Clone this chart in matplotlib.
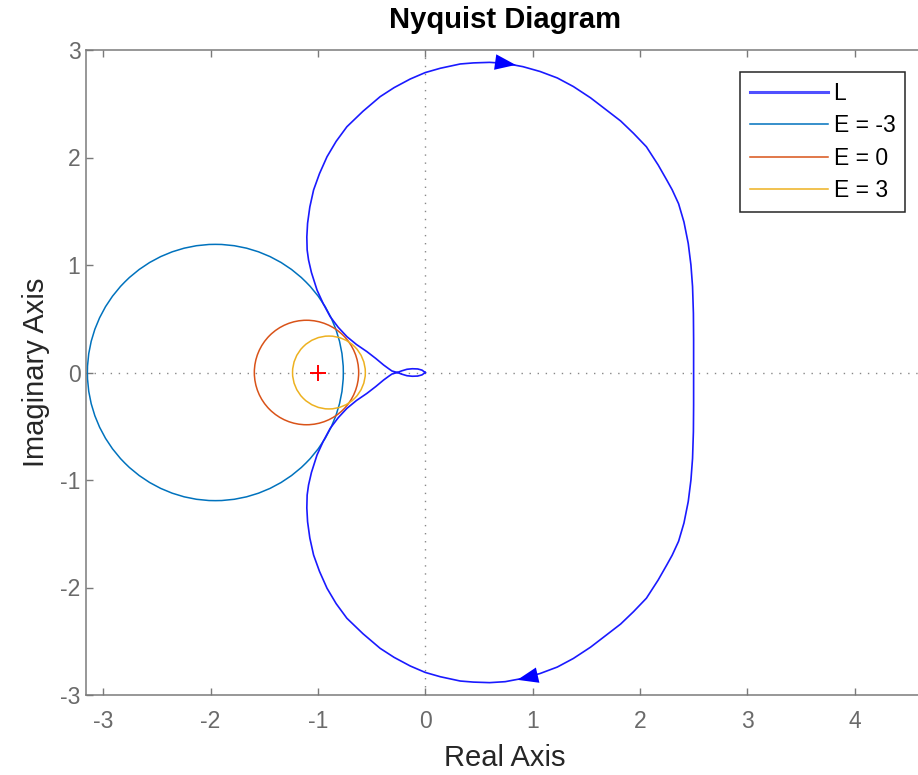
import numpy as np
import matplotlib
matplotlib.use("Agg")
import matplotlib.pyplot as plt
from matplotlib.patches import Circle
from matplotlib.markers import MarkerStyle
from matplotlib.transforms import Affine2D

plt.rcParams['font.family'] = ['Liberation Sans', 'DejaVu Sans']

# ---- Data ----
# Nyquist curve L: upper branch (negative frequencies), from w=0 towards w=inf
L_re_upper = [2.50, 2.50, 2.498, 2.49, 2.475, 2.45, 2.41, 2.36, 2.30, 2.25,
              2.17, 2.06, 1.94, 1.82, 1.69, 1.54, 1.38, 1.23, 1.07, 0.91,
              0.745, 0.60, 0.45, 0.326, 0.14, 0.0, -0.14, -0.29, -0.42, -0.58,
              -0.73, -0.83, -0.915, -0.985, -1.04, -1.075, -1.096, -1.103, -1.10, -1.087,
              -1.06, -1.008, -0.95, -0.885, -0.81, -0.729, -0.64, -0.543, -0.46, -0.388,
              -0.34, -0.31, -0.26, -0.22, -0.17, -0.12, -0.07, -0.03, 0.0]
L_im_upper = [0.00, 0.30, 0.55, 0.80, 1.00, 1.20, 1.40, 1.57, 1.70, 1.79,
              1.93, 2.10, 2.225, 2.34, 2.44, 2.555, 2.66, 2.74, 2.80, 2.845,
              2.876, 2.885, 2.88, 2.87, 2.83, 2.79, 2.73, 2.65, 2.566, 2.43,
              2.286, 2.15, 2.007, 1.85, 1.698, 1.54, 1.388, 1.26, 1.14, 1.047,
              0.93, 0.767, 0.64, 0.519, 0.42, 0.333, 0.26, 0.194, 0.13, 0.070,
              0.035, 0.014, 0.0, -0.015, -0.03, -0.035, -0.033, -0.022, 0.0]

# Direction arrows on L
arrow_re = [0.745, 0.947]
arrow_im = [2.876, -2.83]
arrow_angle_deg = [-8, 193]

# Disk-margin circles: skew E, centre (real), radius
circle_labels = ['E = -3', 'E = 0', 'E = 3']
circle_center = [-1.955, -1.106, -0.897]
circle_radius = [1.192, 0.486, 0.339]
circle_colors = ['#0072BD', '#D95319', '#EDB120']

# Critical point
crit_re = [-1.0]
crit_im = [0.0]

xticks = [-3, -2, -1, 0, 1, 2, 3, 4]
yticks = [-3, -2, -1, 0, 1, 2, 3]

# ---- Figure ----
W, H = 918, 775
fig = plt.figure(figsize=(W / 100, H / 100), dpi=100)
ax = fig.add_axes([86 / W, (H - 695) / H, 838 / W, 645 / H])

ax.set_xlim(-3.16, 4.646)
ax.set_ylim(-3, 3)

# zero lines
ax.axhline(0, color='#888888', lw=1.0, ls=(0, (1, 4.8)), zorder=1)
ax.axvline(0, color='#888888', lw=1.0, ls=(0, (1, 4.8)), zorder=1)

# full closed curve: upper branch reversed, then conjugate (lower) branch
re_u = np.array(L_re_upper)
im_u = np.array(L_im_upper)
re_full = np.concatenate([re_u[::-1], re_u[1:]])
im_full = np.concatenate([im_u[::-1], -im_u[1:]])
ax.plot(re_full, im_full, color='#1a1aff', lw=1.2, label='L', zorder=3,
        solid_joinstyle='round')

# arrows
tri = np.array([[-1.0, -0.75], [1.0, 0.0], [-1.0, 0.75], [-1.0, -0.75]])
for xr, yi, ang in zip(arrow_re, arrow_im, arrow_angle_deg):
    m = MarkerStyle(tri, transform=Affine2D().rotate_deg(ang))
    ax.plot([xr], [yi], linestyle='none', marker=m, markersize=15,
            color='#0000ff', markeredgewidth=0, zorder=4)

# circles
circle_handles = []
for lab, c, r, col in zip(circle_labels, circle_center, circle_radius, circle_colors):
    ax.add_patch(Circle((c, 0), r, fill=False, edgecolor=col, lw=1.1, zorder=2))
    h, = ax.plot([], [], color=col, lw=1.1, label=lab)
    circle_handles.append(h)

# critical point
ax.plot(crit_re, crit_im, linestyle='none', marker='+', color='#ff0000',
        markersize=11, markeredgewidth=1.4, zorder=5)

# axes styling
ax.set_xticks(xticks)
ax.set_yticks(yticks)
ax.set_xticklabels([str(t) for t in xticks])
ax.set_yticklabels([str(t) for t in yticks])
ax.tick_params(direction='in', length=5, width=1, color='#7a7a7a',
               labelcolor='#6a6a6a', labelsize=16.5, top=True, right=False)
ax.tick_params(axis='x', pad=11)
ax.tick_params(axis='y', pad=4)
for side in ['left', 'bottom', 'top']:
    ax.spines[side].set_color('#7a7a7a')
    ax.spines[side].set_linewidth(1.1)
ax.spines['right'].set_visible(False)

ax.set_xlabel('Real Axis', fontsize=21, color='#262626', labelpad=8)
ax.set_ylabel('Imaginary Axis', fontsize=21, color='#262626', labelpad=7)
ax.set_title('Nyquist Diagram', fontsize=21, fontweight='bold', color='#000000', pad=16)

leg_handles = [plt.Line2D([], [], color='#5050ff', lw=2.2)] + circle_handles
leg = ax.legend(leg_handles, ['L'] + circle_labels, loc='upper right',
                bbox_to_anchor=(0.9773, 0.9659), borderaxespad=0,
                fontsize=16.5, frameon=True, fancybox=False, framealpha=1,
                edgecolor='#262626', handlelength=3.4, handletextpad=0.25,
                labelspacing=0.42, borderpad=0.42)
leg.get_frame().set_linewidth(1.1)

fig.savefig('out.png', dpi=100)
